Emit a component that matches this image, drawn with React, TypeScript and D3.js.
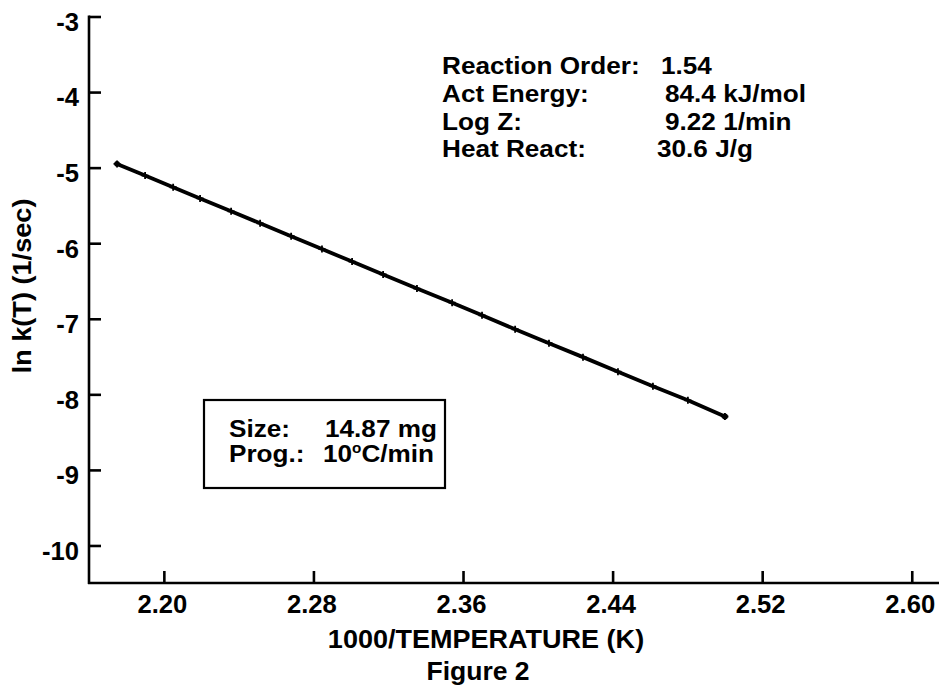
import React from "react";
import * as d3 from "d3";

const xTicks = [2.2, 2.28, 2.36, 2.44, 2.52, 2.6];
const yTicks = [-3, -4, -5, -6, -7, -8, -9, -10];
const invT = [2.1747, 2.1897, 2.2047, 2.2191, 2.2357, 2.2512, 2.2678, 2.2843, 2.3004, 2.317, 2.3351, 2.3539, 2.3699, 2.3876, 2.4057, 2.4239, 2.4426, 2.4613, 2.48, 2.4998];
const lnK = [-4.944, -5.098, -5.253, -5.401, -5.571, -5.73, -5.901, -6.071, -6.237, -6.407, -6.594, -6.78, -6.948, -7.132, -7.316, -7.501, -7.693, -7.885, -8.073, -8.287];
const kineticLabels = ["Reaction Order:", "Act Energy:", "Log Z:", "Heat React:"];
const kineticValues = ["1.54", "84.4 kJ/mol", "9.22 1/min", "30.6 J/g"];
const sampleLabels = ["Size:", "Prog.:"];
const sampleValues = ["14.87 mg", "10"];

const FONT = "'Liberation Sans', Arial, Helvetica, sans-serif";

function T({ x, y, size, sx = 1, anchor = "start", rotate = 0, children }: any) {
  return (
    <g transform={`translate(${x},${y}) rotate(${rotate}) scale(${sx},1)`}>
      <text x={0} y={0} fontSize={size} textAnchor={anchor}>
        {children}
      </text>
    </g>
  );
}

export default function App() {
  const x = d3.scaleLinear().domain([2.1597, 2.6143]).range([89, 939]);
  const y = d3.scaleLinear().domain([-3, -10.49]).range([17, 583]);
  const pts = invT.map((v, i) => [x(v), y(lnK[i])] as [number, number]);
  const line = d3.line()(pts) || "";
  const aFs = 24;
  const aSx = 1.09;
  const valX = [661, 665, 665, 657];
  const rowY = [73.5, 101.5, 129.5, 157];
  const tickFs = 25.6;
  return (
    <div style={{ position: "fixed", left: 0, top: 0 }}>
      <svg width={939} height={688} style={{ display: "block", background: "#fff" }} fontFamily={FONT} fontWeight="bold">
        {/* axes */}
        <line x1={89} y1={y(-3) - 1.5} x2={89} y2={584} stroke="#000" strokeWidth={2.6} />
        <line x1={88} y1={583} x2={939} y2={583} stroke="#000" strokeWidth={2.6} />
        {yTicks.map((t) => (
          <g key={"y" + t}>
            <line x1={89} x2={101} y1={y(t)} y2={y(t)} stroke="#000" strokeWidth={2.6} />
            <T x={79} y={y(t) + 4.7 + 0.358 * tickFs} size={tickFs} anchor="end">
              {t}
            </T>
          </g>
        ))}
        {xTicks.map((t) => (
          <g key={"x" + t}>
            <line x1={x(t)} x2={x(t)} y1={583} y2={571} stroke="#000" strokeWidth={2.6} />
            <T x={x(t) - 2} y={613} size={tickFs} anchor="middle">
              {t.toFixed(2)}
            </T>
          </g>
        ))}
        <T x={486} y={648} size={25.5} sx={1.06} anchor="middle">
          1000/TEMPERATURE (K)
        </T>
        <T x={478} y={680} size={25.5} sx={1.04} anchor="middle">
          Figure 2
        </T>
        <T x={31} y={286} size={25.5} sx={1.065} anchor="middle" rotate={-90}>
          ln k(T) (1/sec)
        </T>
        {/* data */}
        <path d={line} fill="none" stroke="#000" strokeWidth={3.8} strokeLinejoin="round" strokeLinecap="round" />
        {pts.map(([px, py], i) => (
          <path key={i} d={`M${px - 3.5},${py}H${px + 3.5}M${px},${py - 3.5}V${py + 3.5}`} stroke="#000" strokeWidth={1.8} />
        ))}
        <circle cx={pts[0][0]} cy={pts[0][1]} r={2.8} fill="#000" />
        <circle cx={pts[pts.length - 1][0]} cy={pts[pts.length - 1][1]} r={3} fill="#000" />
        {/* kinetic parameters */}
        {kineticLabels.map((l, i) => (
          <g key={l}>
            <T x={442} y={rowY[i]} size={aFs} sx={aSx}>{l}</T>
            <T x={valX[i]} y={rowY[i]} size={aFs} sx={aSx}>{kineticValues[i]}</T>
          </g>
        ))}
        {/* sample box */}
        <rect x={204} y={400} width={241} height={88} fill="none" stroke="#000" strokeWidth={2.2} />
        <T x={229} y={436.5} size={aFs} sx={aSx}>{sampleLabels[0]}</T>
        <T x={325} y={436.5} size={aFs} sx={aSx}>{sampleValues[0]}</T>
        <T x={229} y={462} size={aFs} sx={aSx}>{sampleLabels[1]}</T>
        <T x={323} y={462} size={aFs} sx={aSx}>
          {sampleValues[1]}<tspan fontSize={14} dy={-9}>o</tspan><tspan dy={9}>C/min</tspan>
        </T>
      </svg>
    </div>
  );
}
